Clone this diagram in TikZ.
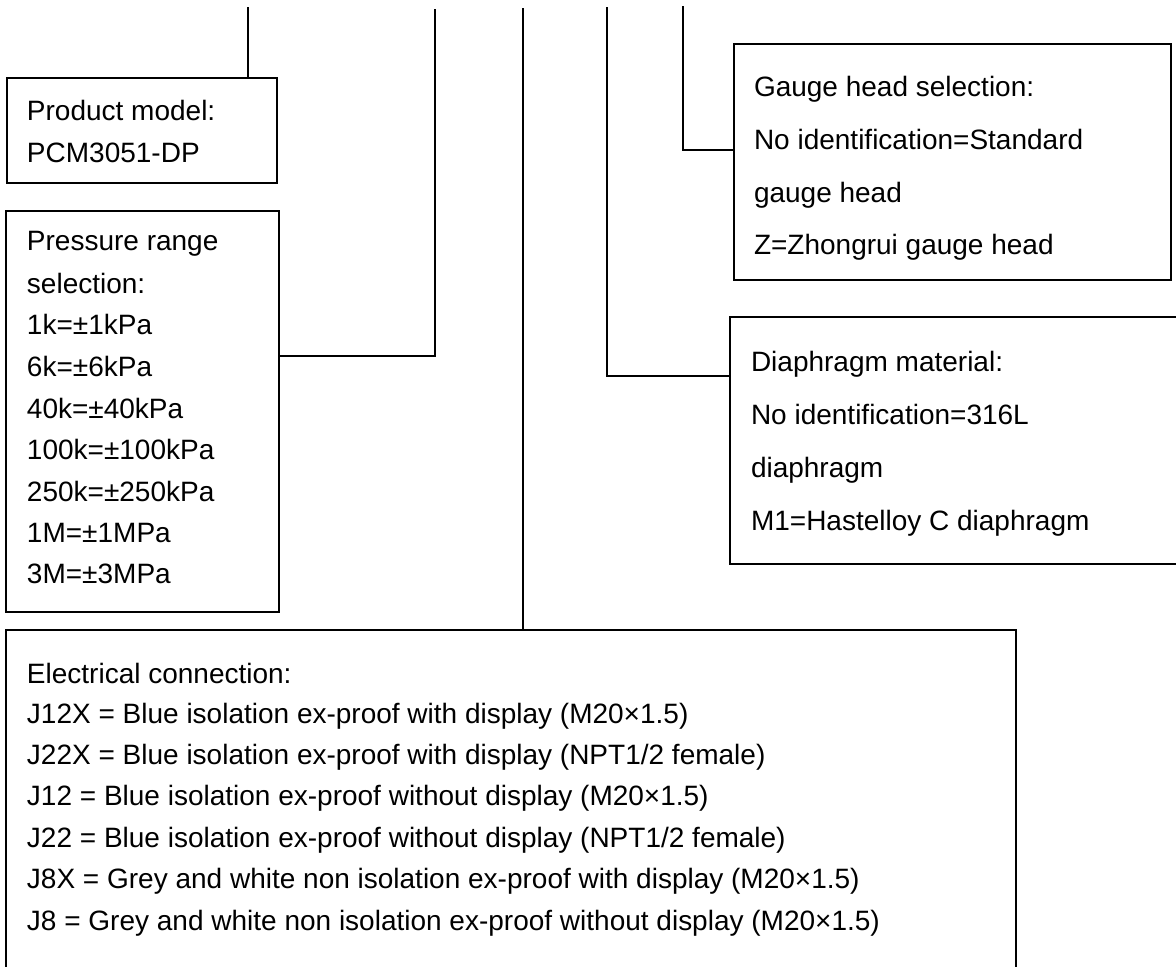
\documentclass[tikz,border=0pt]{standalone}
\usepackage{fontspec}
\setmainfont{Liberation Sans}
\tikzset{
  selbox/.style={draw=black, line width=1.4pt, rectangle, anchor=north west, inner sep=0pt, outer sep=0pt},
  txt/.style={anchor=base west, inner sep=0pt, outer sep=0pt, font=\fontsize{28}{34}\selectfont},
  wirethick/.style={draw=black, line width=2.3pt},
  wirethin/.style={draw=black, line width=1.1pt},
}
\begin{document}
\begin{tikzpicture}[x=1pt,y=1pt]
\useasboundingbox (0,0) rectangle (1176,-967);
\clip (0,0) rectangle (1176,-967);
\fill[white] (0,0) rectangle (1176,-967);

% boxes
\node[selbox, minimum width=270pt, minimum height=105pt] (prod) at (7,-78) {};
\node[selbox, minimum width=273pt, minimum height=401pt] (press) at (6,-211) {};
\node[selbox, minimum width=1010pt, minimum height=400pt, line width=1.8pt] (elec) at (6,-630) {};
\node[selbox, minimum width=437pt, minimum height=236pt] (gauge) at (734,-44) {};
\node[selbox, minimum width=480pt, minimum height=247pt] (diaph) at (730,-317) {};

% texts: product model
\node[txt] (p1) at (27,-120) {Product model:};
\node[txt] (p2) at (27,-162) {PCM3051-DP};

% pressure range
\node[txt] (r1) at (27,-250) {Pressure range};
\node[txt] (r2) at (27,-293) {selection:};
\node[txt] (r3) at (27,-334) {1k=±1kPa};
\node[txt] (r4) at (27,-376) {6k=±6kPa};
\node[txt] (r5) at (27,-418) {40k=±40kPa};
\node[txt] (r6) at (27,-459) {100k=±100kPa};
\node[txt] (r7) at (27,-501) {250k=±250kPa};
\node[txt] (r8) at (27,-542) {1M=±1MPa};
\node[txt] (r9) at (27,-583) {3M=±3MPa};

% gauge head
\node[txt] (g1) at (754,-96.5) {Gauge head selection:};
\node[txt] (g2) at (754,-149) {No identification=Standard};
\node[txt] (g3) at (754,-202) {gauge head};
\node[txt] (g4) at (754,-254.5) {Z=Zhongrui gauge head};

% diaphragm
\node[txt] (d1) at (751,-371) {Diaphragm material:};
\node[txt] (d2) at (751,-424) {No identification=316L};
\node[txt] (d3) at (751,-477) {diaphragm};
\node[txt] (d4) at (751,-530) {M1=Hastelloy C diaphragm};

% electrical
\node[txt] (e1) at (27,-683) {Electrical connection:};
\node[txt] (e2) at (27,-723) {J12X = Blue isolation ex-proof with display (M20×1.5)};
\node[txt] (e3) at (27,-764) {J22X = Blue isolation ex-proof with display (NPT1/2 female)};
\node[txt] (e4) at (27,-805) {J12 = Blue isolation ex-proof without display (M20×1.5)};
\node[txt] (e5) at (27,-847) {J22 = Blue isolation ex-proof without display (NPT1/2 female)};
\node[txt] (e6) at (27,-888) {J8X = Grey and white non isolation ex-proof with display (M20×1.5)};
\node[txt] (e7) at (27,-930) {J8 = Grey and white non isolation ex-proof without display (M20×1.5)};

% connector top ends and joints
\coordinate (topA) at (248,-7);
\coordinate (topB) at (435,-10);
\coordinate (topC) at (523,-8);
\coordinate (topD) at (607,-8);
\coordinate (topE) at (683,-7);
\coordinate (jB) at (0,-356);
\coordinate (jD) at (0,-376);
\coordinate (jE) at (0,-150);

% connectors
\draw[wirethick, line width=2.8pt] (topA) -- (topA |- prod.north);
\draw[wirethick, line cap=rect] (topB) -- (topB |- jB) -- (press.east |- jB);
\draw[wirethin] (topC) -- (topC |- elec.north);
\draw[wirethin, line cap=rect] (topD) -- (topD |- jD) -- (diaph.west |- jD);
\draw[wirethick, line cap=rect] (topE) -- (topE |- jE) -- (gauge.west |- jE);
\end{tikzpicture}
\end{document}
